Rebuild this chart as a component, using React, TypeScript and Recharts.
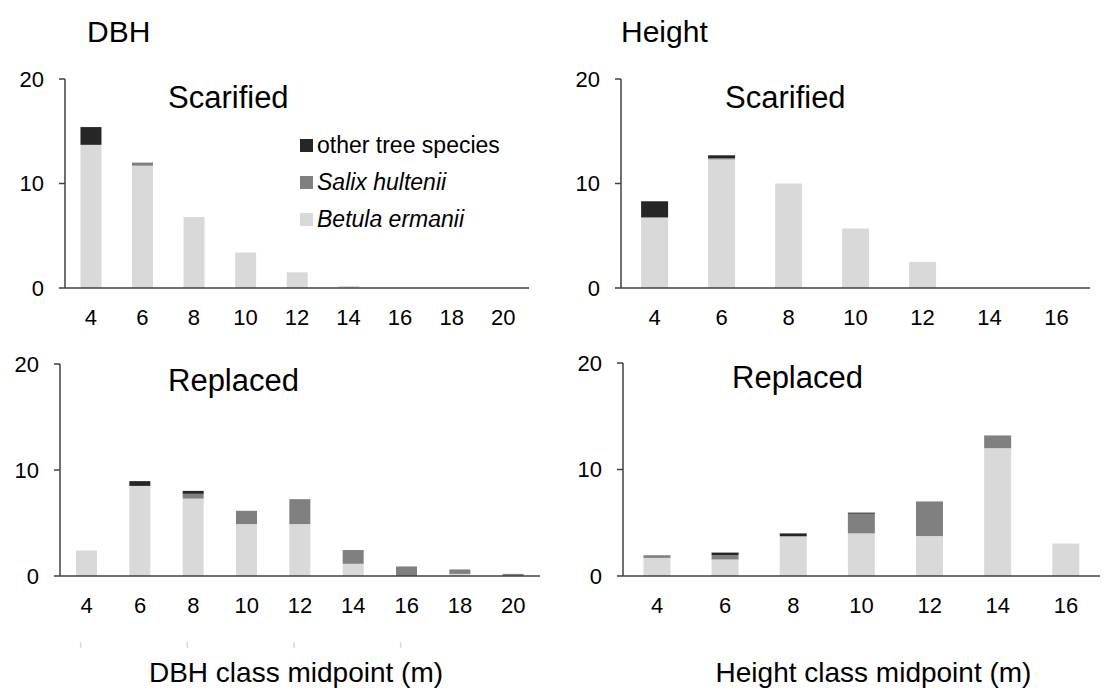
import { BarChart, Bar, XAxis, YAxis, Label } from 'recharts';

// class midpoints
const DBH_CLASSES = ['4', '6', '8', '10', '12', '14', '16', '18', '20'];
const HEIGHT_CLASSES = ['4', '6', '8', '10', '12', '14', '16'];
const Y_TICKS = [0, 10, 20];
const GHOST_TICKS = ['4', '8', '12', '16'];

// DBH, scarified
const DBH_SCAR_BETULA = [13.7, 11.7, 6.8, 3.4, 1.5, 0.2, 0, 0, 0];
const DBH_SCAR_SALIX = [0, 0.3, 0, 0, 0, 0, 0, 0, 0];
const DBH_SCAR_OTHER = [1.7, 0, 0, 0, 0, 0, 0, 0, 0];

// Height, scarified
const HT_SCAR_BETULA = [6.75, 12.3, 10.0, 5.7, 2.5, 0, 0];
const HT_SCAR_SALIX = [0, 0.12, 0, 0, 0, 0, 0];
const HT_SCAR_OTHER = [1.55, 0.28, 0, 0, 0, 0, 0];

// DBH, replaced
const DBH_REPL_BETULA = [2.4, 8.5, 7.3, 4.9, 4.9, 1.15, 0, 0.2, 0];
const DBH_REPL_SALIX = [0, 0, 0.45, 1.25, 2.35, 1.3, 0.9, 0.42, 0.2];
const DBH_REPL_OTHER = [0, 0.45, 0.28, 0, 0, 0, 0, 0, 0];

// Height, replaced
const HT_REPL_BETULA = [1.7, 1.55, 3.7, 4.0, 3.75, 12.0, 3.05];
const HT_REPL_SALIX = [0.25, 0.4, 0.05, 1.85, 3.25, 1.2, 0];
const HT_REPL_OTHER = [0, 0.25, 0.25, 0.1, 0, 0, 0];

const SPECIES = [
  { key: 'other', label: 'other tree species', color: '#262626', italic: false },
  { key: 'salix', label: 'Salix hultenii', color: '#808080', italic: true },
  { key: 'betula', label: 'Betula ermanii', color: '#d9d9d9', italic: true },
];

const FONT = '"Liberation Sans", Arial, sans-serif';
const AXIS = '#404040';

function rows(cls: string[], betula: number[], salix: number[], other: number[]) {
  return cls.map((c, i) => ({ cls: c, betula: betula[i], salix: salix[i], other: other[i] }));
}

const tick = { fontSize: 22, fill: '#000', fontFamily: FONT };
const axisLine = { stroke: AXIS, strokeWidth: 1.5 };

function bars() {
  // stack order bottom -> top: betula, salix, other
  return [...SPECIES].reverse().map((s) => (
    <Bar key={s.key} dataKey={s.key} stackId="s" fill={s.color} isAnimationActive={false} />
  ));
}

function yAxis(width: number) {
  return (
    <YAxis type="number" domain={[0, 20]} ticks={Y_TICKS} interval={0} width={width}
           axisLine={axisLine} tickLine={axisLine} tickSize={6} tickMargin={15} tick={tick} />
  );
}

// faint leftover tick marks under the DBH panel
function GhostTick(props: any) {
  const { x, y } = props;
  return <line x1={x - 6} x2={x - 6} y1={y + 2} y2={y + 8} stroke="#d9d9d9" strokeWidth={1.5} />;
}

function Txt({ x, y, size, children, italic }: { x: number; y: number; size: number; children: any; italic?: boolean }) {
  return (
    <div style={{ position: 'absolute', left: x, top: y - size / 2, fontSize: size, lineHeight: `${size}px`,
                  whiteSpace: 'nowrap', fontStyle: italic ? 'italic' : 'normal', color: '#000' }}>
      {children}
    </div>
  );
}

export default function App() {
  const dbhScar = rows(DBH_CLASSES, DBH_SCAR_BETULA, DBH_SCAR_SALIX, DBH_SCAR_OTHER);
  const htScar = rows(HEIGHT_CLASSES, HT_SCAR_BETULA, HT_SCAR_SALIX, HT_SCAR_OTHER);
  const dbhRepl = rows(DBH_CLASSES, DBH_REPL_BETULA, DBH_REPL_SALIX, DBH_REPL_OTHER);
  const htRepl = rows(HEIGHT_CLASSES, HT_REPL_BETULA, HT_REPL_SALIX, HT_REPL_OTHER);

  return (
    <div style={{ position: 'absolute', left: 0, top: 0, width: 1105, height: 697, background: '#fff', fontFamily: FONT, overflow: 'hidden' }}>
      {/* top left: DBH scarified */}
      <div style={{ position: 'absolute', left: 0, top: 60 }}>
        <BarChart width={545} height={290} data={dbhScar} barCategoryGap="30%"
                  margin={{ top: 19, right: 16, left: 0, bottom: 0 }}>
          <XAxis dataKey="cls" interval={0} height={62} tickLine={false} tickMargin={15} tick={tick} axisLine={axisLine} />
          {yAxis(65)}
          {bars()}
        </BarChart>
      </div>

      {/* top right: height scarified */}
      <div style={{ position: 'absolute', left: 553, top: 60 }}>
        <BarChart width={547} height={290} data={htScar} barCategoryGap="30%"
                  margin={{ top: 19, right: 10, left: 0, bottom: 0 }}>
          <XAxis dataKey="cls" interval={0} height={62} tickLine={false} tickMargin={15} tick={tick} axisLine={axisLine} />
          {yAxis(68)}
          {bars()}
        </BarChart>
      </div>

      {/* bottom left: DBH replaced */}
      <div style={{ position: 'absolute', left: 0, top: 344 }}>
        <BarChart width={550} height={353} data={dbhRepl} barCategoryGap="30%"
                  margin={{ top: 20, right: 10, left: 0, bottom: 0 }}>
          <XAxis dataKey="cls" interval={0} height={64} tickLine={false} tickMargin={15} tick={tick} axisLine={axisLine} />
          <XAxis xAxisId="ghost" dataKey="cls" ticks={GHOST_TICKS} interval={0} height={57}
                 axisLine={false} tickLine={false} tickSize={0} tickMargin={0} tick={<GhostTick />}>
            <Label value="DBH class midpoint (m)" position="insideBottom" offset={15} dx={-4}
                   style={{ fontSize: 28, fill: '#000', fontFamily: FONT }} />
          </XAxis>
          {yAxis(60)}
          {bars()}
        </BarChart>
      </div>

      {/* bottom right: height replaced */}
      <div style={{ position: 'absolute', left: 553, top: 344 }}>
        <BarChart width={552} height={353} data={htRepl} barCategoryGap="30%"
                  margin={{ top: 19, right: 5, left: 0, bottom: 0 }}>
          <XAxis dataKey="cls" interval={0} height={121} tickLine={false} tickMargin={15} tick={tick} axisLine={axisLine}>
            <Label value="Height class midpoint (m)" position="insideBottom" offset={15} dx={12}
                   style={{ fontSize: 28, fill: '#000', fontFamily: FONT }} />
          </XAxis>
          {yAxis(70)}
          {bars()}
        </BarChart>
      </div>

      {/* panel titles */}
      <Txt x={87} y={32} size={30}>DBH</Txt>
      <Txt x={621} y={32} size={30}>Height</Txt>
      <Txt x={168} y={97} size={31}>Scarified</Txt>
      <Txt x={725} y={97} size={31}>Scarified</Txt>
      <Txt x={168} y={380} size={31}>Replaced</Txt>
      <Txt x={732} y={377} size={31}>Replaced</Txt>

      {/* legend */}
      {SPECIES.map((s, i) => (
        <div key={s.key}>
          <div style={{ position: 'absolute', left: 300, top: 145 + i * 37 - 6.5, width: 13, height: 13, background: s.color }} />
          <Txt x={317} y={145 + i * 37} size={23} italic={s.italic}>{s.label}</Txt>
        </div>
      ))}
    </div>
  );
}
